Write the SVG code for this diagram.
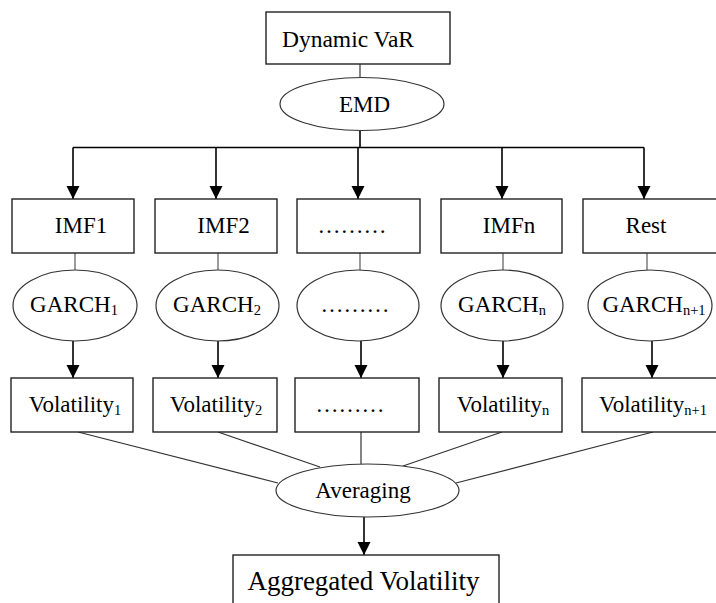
<svg xmlns="http://www.w3.org/2000/svg" width="716" height="603" viewBox="0 0 716 603">
<defs>
<marker id="ah" markerUnits="userSpaceOnUse" markerWidth="14" markerHeight="14" viewBox="0 0 14 14" refX="13" refY="7" orient="auto">
<path d="M0,0.5 L13,7 L0,13.5 Z" fill="#000"/>
</marker>
<style>
.box{fill:#fff;stroke:#222;stroke-width:1.4}
.ell{fill:#fff;stroke:#333;stroke-width:1.2}
.t{font-family:"Liberation Serif","Times New Roman",serif;font-size:23px;fill:#000;text-anchor:middle}
.big{font-size:27px}
.sub{font-size:14.5px}
.arr{stroke:#000;stroke-width:1.6;fill:none}
.ln{stroke:#333;stroke-width:1.2;fill:none}
.gl{stroke:#666;stroke-width:1.3;fill:none}
</style>
</defs>
<rect width="716" height="603" fill="#fff"/>
<g id="connectors">
<line class="ln" x1="360" y1="64" x2="360" y2="78"/>
<polyline class="arr" points="360,130 360,147.5"/>
<line class="arr" x1="73" y1="147.5" x2="644" y2="147.5"/>
<line class="arr" x1="73" y1="147.5" x2="73" y2="199" marker-end="url(#ah)"/>
<line class="arr" x1="216" y1="147.5" x2="216" y2="199" marker-end="url(#ah)"/>
<line class="arr" x1="358" y1="147.5" x2="358" y2="199" marker-end="url(#ah)"/>
<line class="arr" x1="502" y1="147.5" x2="502" y2="199" marker-end="url(#ah)"/>
<line class="arr" x1="644" y1="147.5" x2="644" y2="199" marker-end="url(#ah)"/>
<line class="gl" x1="75" y1="253" x2="75" y2="270"/>
<line class="gl" x1="218" y1="253" x2="218" y2="270"/>
<line class="gl" x1="360" y1="253" x2="360" y2="270"/>
<line class="gl" x1="503" y1="253" x2="503" y2="270"/>
<line class="gl" x1="647" y1="253" x2="647" y2="270"/>
<line class="arr" x1="73" y1="341" x2="73" y2="378" marker-end="url(#ah)"/>
<line class="arr" x1="218" y1="341" x2="218" y2="378" marker-end="url(#ah)"/>
<line class="arr" x1="361" y1="341" x2="361" y2="378" marker-end="url(#ah)"/>
<line class="arr" x1="503" y1="341" x2="503" y2="378" marker-end="url(#ah)"/>
<line class="arr" x1="652" y1="341" x2="652" y2="378" marker-end="url(#ah)"/>
<line class="ln" x1="78" y1="432" x2="278" y2="483"/>
<line class="ln" x1="218" y1="432" x2="320" y2="467"/>
<line class="ln" x1="361" y1="432" x2="361" y2="464"/>
<line class="ln" x1="502" y1="432" x2="403" y2="466"/>
<line class="ln" x1="653" y1="432" x2="456" y2="483"/>
<line class="arr" x1="364" y1="517" x2="364" y2="555" marker-end="url(#ah)"/>
</g>
<g id="dynamic-var">
<rect class="box" x="266" y="12" width="184" height="52"/>
<text class="t" x="348" y="47" style="font-size:23.5px">Dynamic VaR</text>
</g>
<g id="emd">
<ellipse class="ell" cx="362" cy="104" rx="82" ry="26.5"/>
<text class="t" x="364.5" y="112">EMD</text>
</g>
<g id="imf1">
<rect class="box" x="12" y="199" width="122" height="54"/>
<text class="t" x="81" y="233">IMF1</text>
</g>
<g id="imf2">
<rect class="box" x="155" y="199" width="122" height="54"/>
<text class="t" x="223.5" y="233">IMF2</text>
</g>
<g id="imf-dots">
<rect class="box" x="297" y="199" width="123" height="54"/>
<text class="t" x="352" y="233">………</text>
</g>
<g id="imfn">
<rect class="box" x="441" y="199" width="121" height="54"/>
<text class="t" x="509" y="233">IMFn</text>
</g>
<g id="rest">
<rect class="box" x="583" y="199" width="140" height="54"/>
<text class="t" x="646" y="233">Rest</text>
</g>
<g id="garch1">
<ellipse class="ell" cx="75" cy="305.5" rx="62" ry="35.5"/>
<text class="t" x="74" y="312">GARCH<tspan class="sub" dy="3">1</tspan></text>
</g>
<g id="garch2">
<ellipse class="ell" cx="217.5" cy="305.5" rx="61.5" ry="35.5"/>
<text class="t" x="217" y="312">GARCH<tspan class="sub" dy="3">2</tspan></text>
</g>
<g id="garch-dots">
<ellipse class="ell" cx="358" cy="305.5" rx="61" ry="35.5"/>
<text class="t" x="355" y="312">………</text>
</g>
<g id="garchn">
<ellipse class="ell" cx="502" cy="305.5" rx="61" ry="35.5"/>
<text class="t" x="502" y="312">GARCH<tspan class="sub" dy="3">n</tspan></text>
</g>
<g id="garchn1">
<ellipse class="ell" cx="650" cy="305.5" rx="62" ry="35.5"/>
<text class="t" x="654" y="312">GARCH<tspan class="sub" dy="3">n+1</tspan></text>
</g>
<g id="vol1">
<rect class="box" x="11" y="378" width="122" height="54"/>
<text class="t" x="75" y="412">Volatility<tspan class="sub" dy="3">1</tspan></text>
</g>
<g id="vol2">
<rect class="box" x="153" y="378" width="124" height="54"/>
<text class="t" x="216" y="412">Volatility<tspan class="sub" dy="3">2</tspan></text>
</g>
<g id="vol-dots">
<rect class="box" x="295" y="378" width="124" height="54"/>
<text class="t" x="350" y="412">………</text>
</g>
<g id="voln">
<rect class="box" x="439" y="378" width="123" height="54"/>
<text class="t" x="503" y="412">Volatility<tspan class="sub" dy="3">n</tspan></text>
</g>
<g id="voln1">
<rect class="box" x="582" y="378" width="140" height="54"/>
<text class="t" x="653" y="412">Volatility<tspan class="sub" dy="3">n+1</tspan></text>
</g>
<g id="averaging">
<ellipse class="ell" cx="367.5" cy="490.5" rx="91.5" ry="26.5"/>
<text class="t" x="363" y="498">Averaging</text>
</g>
<g id="aggregated">
<rect class="box" x="233" y="555" width="266" height="60"/>
<text class="t big" x="363.5" y="590">Aggregated Volatility</text>
</g>
</svg>
